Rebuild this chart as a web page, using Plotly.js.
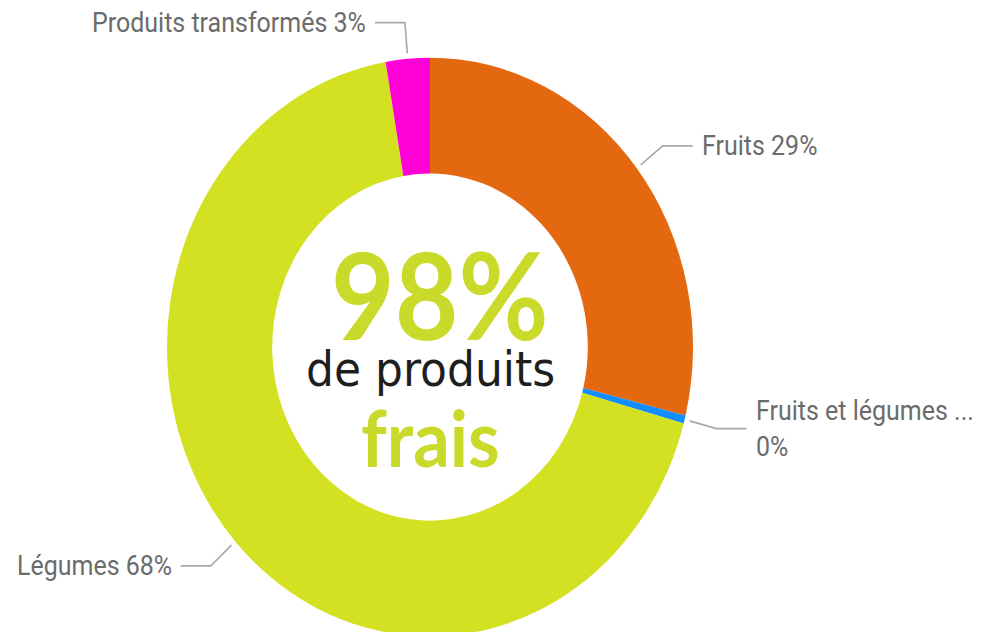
<!DOCTYPE html>
<html><head><meta charset="utf-8">
<script src="https://cdn.plot.ly/plotly-3.0.1.min.js"></script>
<style>
html,body{margin:0;padding:0;width:986px;height:632px;overflow:hidden;background:#fff;}
#chart{width:986px;height:600px;transform:scaleY(1.1);transform-origin:0 0;}
</style></head><body><div id="chart"></div>
<script>
// ---- data ----
const categories = ["Fruits", "Fruits et légumes ...", "Légumes", "Produits transformés"];
const values = [28.8, 0.45, 68.05, 2.7];
const labelSeparators = [" ", "<br>", " ", " "];
const sliceColors = ["#E3680F", "#118DFF", "#D4E022", "#FF00D6"];
const centerPercent = "98%";
const centerLine1 = "de produits";
const centerLine2 = "frais";

// ---- layout geometry ----
const W = 986, H = 600;
const dom = {x: [167 / W, 693 / W], y: [1 - 578.5 / H, 1 - 52.5 / H]};
const cx = (dom.x[0] + dom.x[1]) / 2 * W;
const cy = (1 - (dom.y[0] + dom.y[1]) / 2) * H;
const R = Math.min((dom.x[1] - dom.x[0]) * W, (dom.y[1] - dom.y[0]) * H) / 2;

const total = values.reduce((a, b) => a + b, 0);
const shapes = [];
const annotations = [];
const labelFont = {family: "Roboto, sans-serif", size: 25, color: "#6b6b6b"};
let cum = 0;
values.forEach((v, i) => {
  const a = 2 * Math.PI * (cum + v / 2) / total;
  cum += v;
  const s = Math.sin(a), c = Math.cos(a);
  const p0 = [cx + (R + 5) * s, cy - (R + 5) * c];
  const p1 = [cx + (R + 33) * s, cy - (R + 33) * c];
  const side = s >= 0 ? 1 : -1;
  const p2 = [p1[0] + side * 30, p1[1]];
  const px = p => (p[0] / W).toFixed(5) + "," + (1 - p[1] / H).toFixed(5);
  shapes.push({type: "path", xref: "paper", yref: "paper",
    path: "M" + px(p0) + " L" + px(p1) + " L" + px(p2),
    line: {color: "#a8a8a8", width: 1.6}});
  const pct = Math.round(v / total * 100) + "%";
  annotations.push({xref: "paper", yref: "paper", x: (p2[0] + side * 7) / W, y: 1 - p2[1] / H,
    text: categories[i] + labelSeparators[i] + pct, showarrow: false,
    xanchor: side > 0 ? "left" : "right", yanchor: "middle", align: "left", font: labelFont});
});

annotations.push({xref: "paper", yref: "paper", x: (cx + 10) / W, y: 0.556, text: "<b>" + centerPercent + "</b>",
  showarrow: false, xanchor: "center", yanchor: "middle",
  font: {family: "Lato, sans-serif", size: 110, color: "#C9DA2A"}});
annotations.push({xref: "paper", yref: "paper", x: cx / W, y: 0.441, text: centerLine1,
  showarrow: false, xanchor: "center", yanchor: "middle",
  font: {family: "DejaVu Sans, sans-serif", size: 44, color: "#1e1e1e"}});
annotations.push({xref: "paper", yref: "paper", x: cx / W, y: 0.338, text: "<b>" + centerLine2 + "</b>",
  showarrow: false, xanchor: "center", yanchor: "middle",
  font: {family: "Lato, sans-serif", size: 72, color: "#C9DA2A"}});

const trace = {
  type: "pie", labels: categories, values: values, sort: false,
  direction: "clockwise", rotation: 0, hole: 0.6,
  marker: {colors: sliceColors, line: {width: 0}},
  textinfo: "none", hoverinfo: "none", showlegend: false,
  domain: dom
};

Plotly.newPlot("chart", [trace], {
  width: W, height: H, margin: {l: 0, r: 0, t: 0, b: 0},
  paper_bgcolor: "#ffffff", plot_bgcolor: "#ffffff",
  showlegend: false, shapes: shapes, annotations: annotations
}, {staticPlot: true, displayModeBar: false});
</script></body></html>
